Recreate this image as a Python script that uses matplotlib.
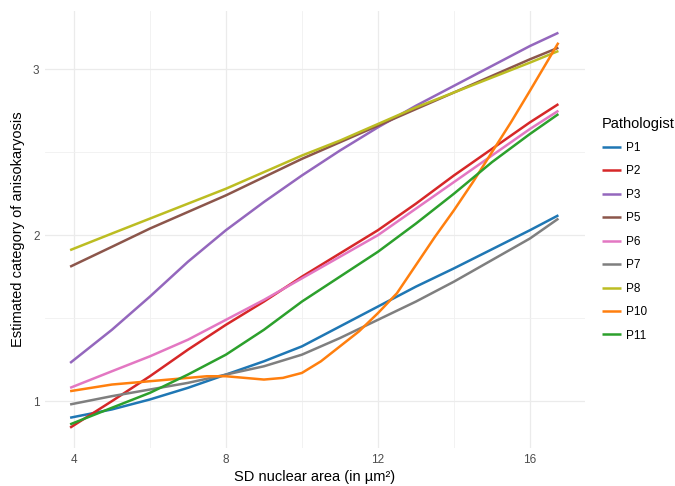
import numpy as np
import matplotlib.pyplot as plt

# SD nuclear area (in µm²) sampled along each fitted curve
sd_area = [3.9, 5, 6, 7, 8, 9, 10, 11, 12, 13, 14, 15, 16, 16.75]

pathologists = ["P1", "P2", "P3", "P5", "P6", "P7", "P8", "P10", "P11"]

p1 = [0.90, 0.95, 1.01, 1.08, 1.16, 1.24, 1.33, 1.45, 1.57, 1.69, 1.80, 1.915, 2.03, 2.12]
p2 = [0.84, 1.00, 1.15, 1.31, 1.46, 1.60, 1.75, 1.89, 2.03, 2.19, 2.36, 2.52, 2.68, 2.79]
p3 = [1.23, 1.43, 1.63, 1.84, 2.03, 2.20, 2.36, 2.51, 2.65, 2.78, 2.90, 3.02, 3.14, 3.22]
p5 = [1.81, 1.93, 2.04, 2.14, 2.24, 2.35, 2.46, 2.56, 2.66, 2.76, 2.86, 2.96, 3.06, 3.13]
p6 = [1.08, 1.18, 1.27, 1.37, 1.49, 1.61, 1.74, 1.87, 2.00, 2.16, 2.32, 2.48, 2.64, 2.75]
p7 = [0.98, 1.03, 1.07, 1.11, 1.16, 1.21, 1.28, 1.38, 1.49, 1.60, 1.72, 1.85, 1.98, 2.10]
p8 = [1.91, 2.01, 2.10, 2.19, 2.28, 2.38, 2.48, 2.57, 2.67, 2.77, 2.86, 2.95, 3.04, 3.11]
p11 = [0.86, 0.96, 1.05, 1.16, 1.28, 1.43, 1.60, 1.75, 1.90, 2.07, 2.25, 2.44, 2.61, 2.73]

# P10 bends sharply, so it is sampled more densely
sd_area_p10 = [3.9, 5, 6, 7, 7.5, 8, 8.5, 9, 9.5, 10, 10.5, 11, 11.5, 12,
               12.5, 13, 13.5, 14, 14.5, 15, 15.5, 16, 16.75]
p10 = [1.06, 1.10, 1.12, 1.14, 1.15, 1.15, 1.14, 1.13, 1.14, 1.17, 1.24, 1.33,
       1.42, 1.53, 1.65, 1.82, 1.99, 2.15, 2.32, 2.50, 2.68, 2.87, 3.16]

series = [p1, p2, p3, p5, p6, p7, p8, p10, p11]
colors = ["#1f77b4", "#d62728", "#9467bd", "#8c564b", "#e377c2",
          "#7f7f7f", "#bcbd22", "#ff7f0e", "#2ca02c"]

plt.rcParams["font.family"] = ["Liberation Sans", "DejaVu Sans"]

fig = plt.figure(figsize=(6.75, 4.86), dpi=100)
ax = fig.add_axes([0.0667, 0.078, 0.80, 0.899])

for name, vals, col in zip(pathologists, series, colors):
    xs = sd_area_p10 if name == "P10" else sd_area
    ax.plot(xs, vals, color=col, lw=1.8, label=name,
            solid_capstyle="butt", solid_joinstyle="round")

ax.set_xlim(3.24, 17.45)
ax.set_ylim(0.717, 3.35)
ax.set_xticks([4, 8, 12, 16])
ax.set_xticks([6, 10, 14], minor=True)
ax.set_yticks([1, 2, 3])
ax.set_yticks([1.5, 2.5], minor=True)

ax.grid(True, which="major", color="#ebebeb", lw=0.9)
ax.grid(True, which="minor", color="#f0f0f0", lw=0.6)
ax.set_axisbelow(True)
for s in ax.spines.values():
    s.set_visible(False)
ax.tick_params(which="both", length=0, colors="#4d4d4d", labelsize=8.5, pad=4)

ax.set_xlabel("SD nuclear area (in µm²)", fontsize=10.5, labelpad=3)
ax.set_ylabel("Estimated category of anisokaryosis", fontsize=10.5, labelpad=6)

leg = ax.legend(loc="upper left", bbox_to_anchor=(0.885, 0.77),
                bbox_transform=fig.transFigure, frameon=False,
                title="Pathologist", fontsize=8.5, title_fontsize=10.5,
                handlelength=1.6, handletextpad=0.4, labelspacing=0.97,
                borderaxespad=0)
leg._legend_box.align = "left"

fig.savefig("out.png", dpi=100)
